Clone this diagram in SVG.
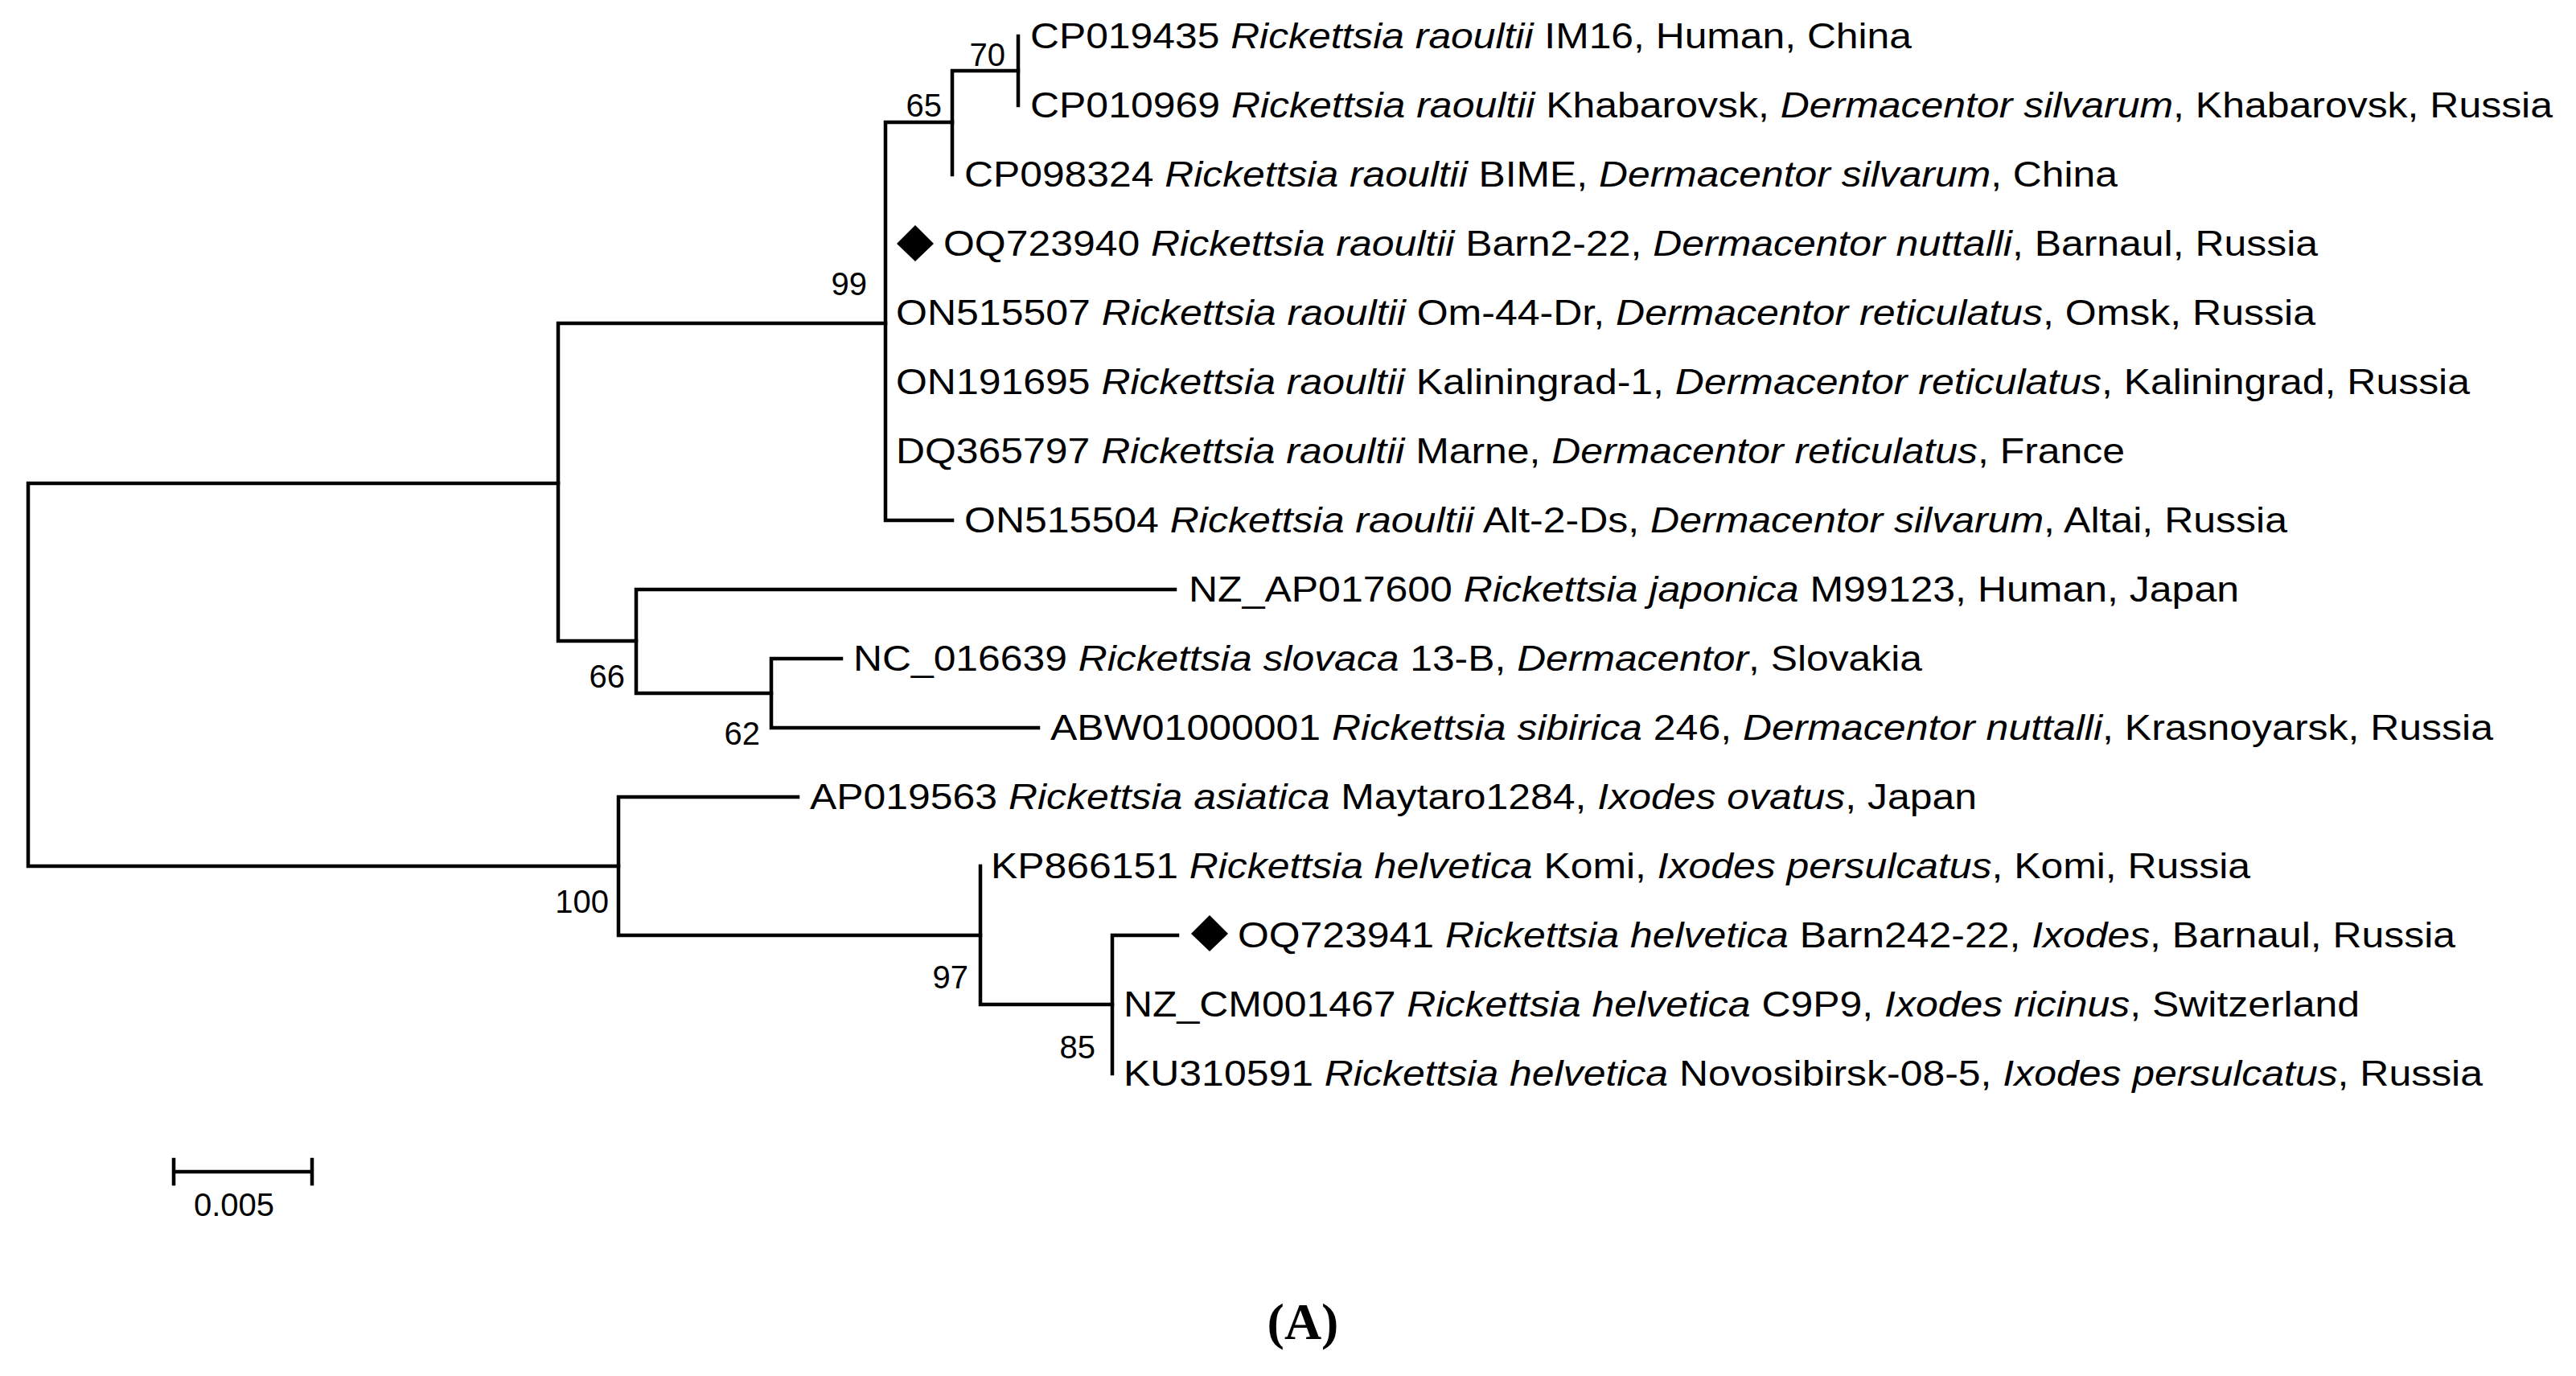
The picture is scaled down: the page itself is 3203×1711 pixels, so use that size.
<svg xmlns="http://www.w3.org/2000/svg" width="3203" height="1711" viewBox="0 0 3203 1711">
<style>
.b{fill:none;stroke:#000;stroke-width:4.5;stroke-linecap:square}
.t{font-family:"Liberation Sans",Arial,sans-serif;font-size:44px;fill:#000}
.l{font-family:"Liberation Sans",Arial,sans-serif;font-size:40px;fill:#000;text-anchor:end}
i,.i{font-style:italic}
</style>
<rect width="3203" height="1711" fill="#fff"/>
<g id="connectors">
<path class="b" d="M35,601V1077M35,601H694M35,1077H769"/>
<path class="b" d="M694,402V797M694,402H1101M694,797H791"/>
<path class="b" d="M1101,152V647M1101,152H1184M1101,647H1184"/>
<path class="b" d="M1184,88V217M1184,88H1266"/>
<path class="b" d="M1266,45V131"/>
<path class="b" d="M791,733V862M791,733H1461M791,862H959"/>
<path class="b" d="M959,819V905M959,819H1046M959,905H1291"/>
<path class="b" d="M769,991V1163M769,991H992M769,1163H1219"/>
<path class="b" d="M1219,1077V1249M1219,1249H1383"/>
<path class="b" d="M1383,1163V1335M1383,1163H1464"/>
</g>
<g id="leaves">
<text class="t" x="1281" y="60" textLength="1096" lengthAdjust="spacingAndGlyphs">CP019435 <tspan class="i">Rickettsia raoultii</tspan> IM16, Human, China</text>
<text class="t" x="1281" y="146" textLength="1893" lengthAdjust="spacingAndGlyphs">CP010969 <tspan class="i">Rickettsia raoultii</tspan> Khabarovsk, <tspan class="i">Dermacentor silvarum</tspan>, Khabarovsk, Russia</text>
<text class="t" x="1199" y="232" textLength="1434" lengthAdjust="spacingAndGlyphs">CP098324 <tspan class="i">Rickettsia raoultii</tspan> BIME, <tspan class="i">Dermacentor silvarum</tspan>, China</text>
<g id="n-OQ723940"><polygon points="1138,280 1161,303 1138,325 1115,303" fill="#000"/>
<text class="t" x="1173" y="318" textLength="1709" lengthAdjust="spacingAndGlyphs">OQ723940 <tspan class="i">Rickettsia raoultii</tspan> Barn2-22, <tspan class="i">Dermacentor nuttalli</tspan>, Barnaul, Russia</text></g>
<text class="t" x="1114" y="404" textLength="1765" lengthAdjust="spacingAndGlyphs">ON515507 <tspan class="i">Rickettsia raoultii</tspan> Om-44-Dr, <tspan class="i">Dermacentor reticulatus</tspan>, Omsk, Russia</text>
<text class="t" x="1114" y="490" textLength="1957" lengthAdjust="spacingAndGlyphs">ON191695 <tspan class="i">Rickettsia raoultii</tspan> Kaliningrad-1, <tspan class="i">Dermacentor reticulatus</tspan>, Kaliningrad, Russia</text>
<text class="t" x="1114" y="576" textLength="1528" lengthAdjust="spacingAndGlyphs">DQ365797 <tspan class="i">Rickettsia raoultii</tspan> Marne, <tspan class="i">Dermacentor reticulatus</tspan>, France</text>
<text class="t" x="1199" y="662" textLength="1645" lengthAdjust="spacingAndGlyphs">ON515504 <tspan class="i">Rickettsia raoultii</tspan> Alt-2-Ds, <tspan class="i">Dermacentor silvarum</tspan>, Altai, Russia</text>
<text class="t" x="1478" y="748" textLength="1306" lengthAdjust="spacingAndGlyphs">NZ_AP017600 <tspan class="i">Rickettsia japonica</tspan> M99123, Human, Japan</text>
<text class="t" x="1061" y="834" textLength="1329" lengthAdjust="spacingAndGlyphs">NC_016639 <tspan class="i">Rickettsia slovaca</tspan> 13-B, <tspan class="i">Dermacentor</tspan>, Slovakia</text>
<text class="t" x="1306" y="920" textLength="1794" lengthAdjust="spacingAndGlyphs">ABW01000001 <tspan class="i">Rickettsia sibirica</tspan> 246, <tspan class="i">Dermacentor nuttalli</tspan>, Krasnoyarsk, Russia</text>
<text class="t" x="1007" y="1006" textLength="1451" lengthAdjust="spacingAndGlyphs">AP019563 <tspan class="i">Rickettsia asiatica</tspan> Maytaro1284, <tspan class="i">Ixodes ovatus</tspan>, Japan</text>
<text class="t" x="1232" y="1092" textLength="1566" lengthAdjust="spacingAndGlyphs">KP866151 <tspan class="i">Rickettsia helvetica</tspan> Komi, <tspan class="i">Ixodes persulcatus</tspan>, Komi, Russia</text>
<g id="n-OQ723941"><polygon points="1504,1138 1527,1161 1504,1183 1481,1161" fill="#000"/>
<text class="t" x="1539" y="1178" textLength="1514" lengthAdjust="spacingAndGlyphs">OQ723941 <tspan class="i">Rickettsia helvetica</tspan> Barn242-22, <tspan class="i">Ixodes</tspan>, Barnaul, Russia</text></g>
<text class="t" x="1397" y="1264" textLength="1537" lengthAdjust="spacingAndGlyphs">NZ_CM001467 <tspan class="i">Rickettsia helvetica</tspan> C9P9, <tspan class="i">Ixodes ricinus</tspan>, Switzerland</text>
<text class="t" x="1397" y="1350" textLength="1690" lengthAdjust="spacingAndGlyphs">KU310591 <tspan class="i">Rickettsia helvetica</tspan> Novosibirsk-08-5, <tspan class="i">Ixodes persulcatus</tspan>, Russia</text>
</g>
<g id="bootstrap">
<text class="l" x="1250" y="82">70</text>
<text class="l" x="1171" y="145">65</text>
<text class="l" x="1078" y="367">99</text>
<text class="l" x="777" y="855">66</text>
<text class="l" x="945" y="926">62</text>
<text class="l" x="757" y="1135">100</text>
<text class="l" x="1204" y="1229">97</text>
<text class="l" x="1362" y="1316">85</text>
</g>
<g id="scale">
<path class="b" d="M216,1442V1472M216,1457H388M388,1442V1472"/>
<text class="l" x="342" y="1512" style="text-anchor:middle" transform="translate(-51,0)">0.005</text>
</g>
<text x="1620" y="1665" text-anchor="middle" font-family="'Liberation Serif','Times New Roman',serif" font-size="64" font-weight="bold">(A)</text>
</svg>
